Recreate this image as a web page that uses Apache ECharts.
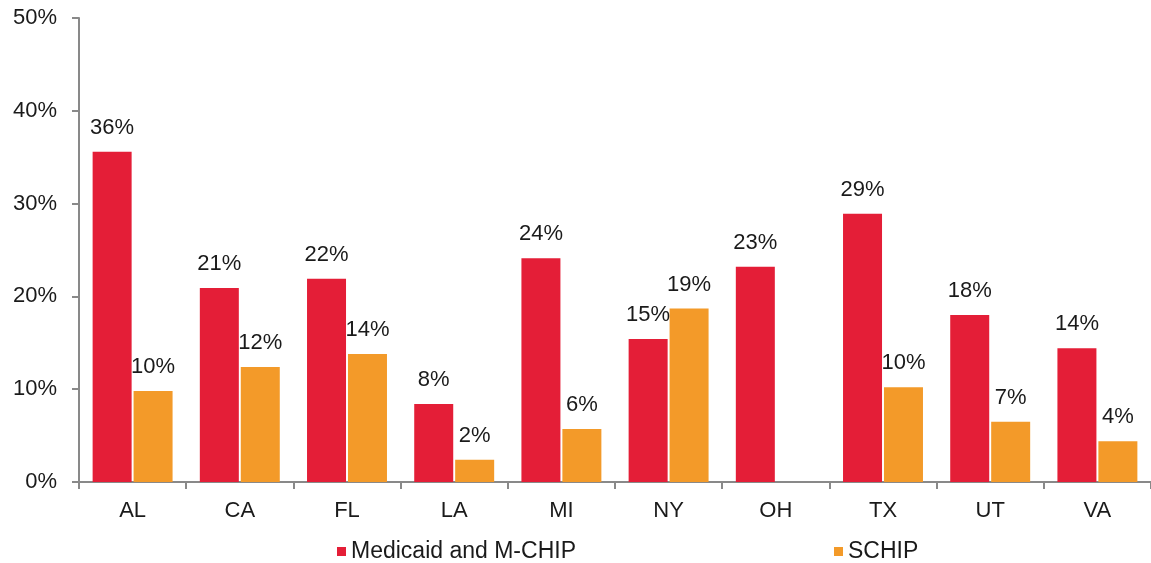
<!DOCTYPE html>
<html>
<head>
<meta charset="utf-8">
<script src="https://cdn.jsdelivr.net/npm/echarts@6/dist/echarts.min.js"></script>
<style>
html,body{margin:0;padding:0;background:#fff;}
#chart{width:1151px;height:563px;}
</style>
</head>
<body>
<div id="chart"></div>
<script>
const categories = ['AL','CA','FL','LA','MI','NY','OH','TX','UT','VA'];
const medicaid = [35.6, 20.9, 21.9, 8.4, 24.1, 15.4, 23.2, 28.9, 18.0, 14.4];
const schip = [9.8, 12.4, 13.8, 2.4, 5.7, 18.7, null, 10.2, 6.5, 4.4];
const seriesNames = ['Medicaid and M-CHIP', 'SCHIP'];
const yTicks = [0, 10, 20, 30, 40, 50];

const FONT = 'Liberation Sans, Arial, sans-serif';
const FS = 22;
const chart = echarts.init(document.getElementById('chart'));
const labelCfg = {
  show: true, position: 'top', distance: 13,
  fontFamily: FONT, fontSize: FS, color: '#1a1a1a',
  formatter: p => Math.round(p.value) + '%'
};
const legendText = {fontFamily: FONT, fontSize: 23, color: '#1a1a1a'};
chart.setOption({
  animation: false,
  grid: {left: 79, right: 0, top: 18, bottom: 81, containLabel: false},
  legend: [
    {data: [seriesNames[0]], left: 332, top: 535, itemWidth: 9, itemHeight: 9, icon: 'rect',
     textStyle: legendText},
    {data: [seriesNames[1]], left: 829, top: 535, itemWidth: 9, itemHeight: 9, icon: 'rect',
     textStyle: legendText}
  ],
  xAxis: {
    type: 'category', data: categories,
    axisLine: {lineStyle: {color: '#898989', width: 2}},
    axisTick: {show: true, length: 7, lineStyle: {color: '#898989', width: 2}},
    axisLabel: {fontFamily: FONT, fontSize: FS, color: '#1a1a1a', margin: 18}
  },
  yAxis: {
    type: 'value', min: yTicks[0], max: yTicks[yTicks.length - 1], interval: 10,
    axisLine: {show: true, lineStyle: {color: '#898989', width: 2}},
    axisTick: {show: true, length: 7, lineStyle: {color: '#898989', width: 2}},
    splitLine: {show: false},
    axisLabel: {fontFamily: FONT, fontSize: FS, color: '#1a1a1a', margin: 22, formatter: v => v + '%'}
  },
  series: [
    {name: seriesNames[0], type: 'bar', data: medicaid, barWidth: 39, barGap: '5%',
     itemStyle: {color: '#E41E37'}, label: labelCfg},
    {name: seriesNames[1], type: 'bar', data: schip, barWidth: 39,
     itemStyle: {color: '#F39A29'}, label: labelCfg}
  ]
});
</script>
</body>
</html>
